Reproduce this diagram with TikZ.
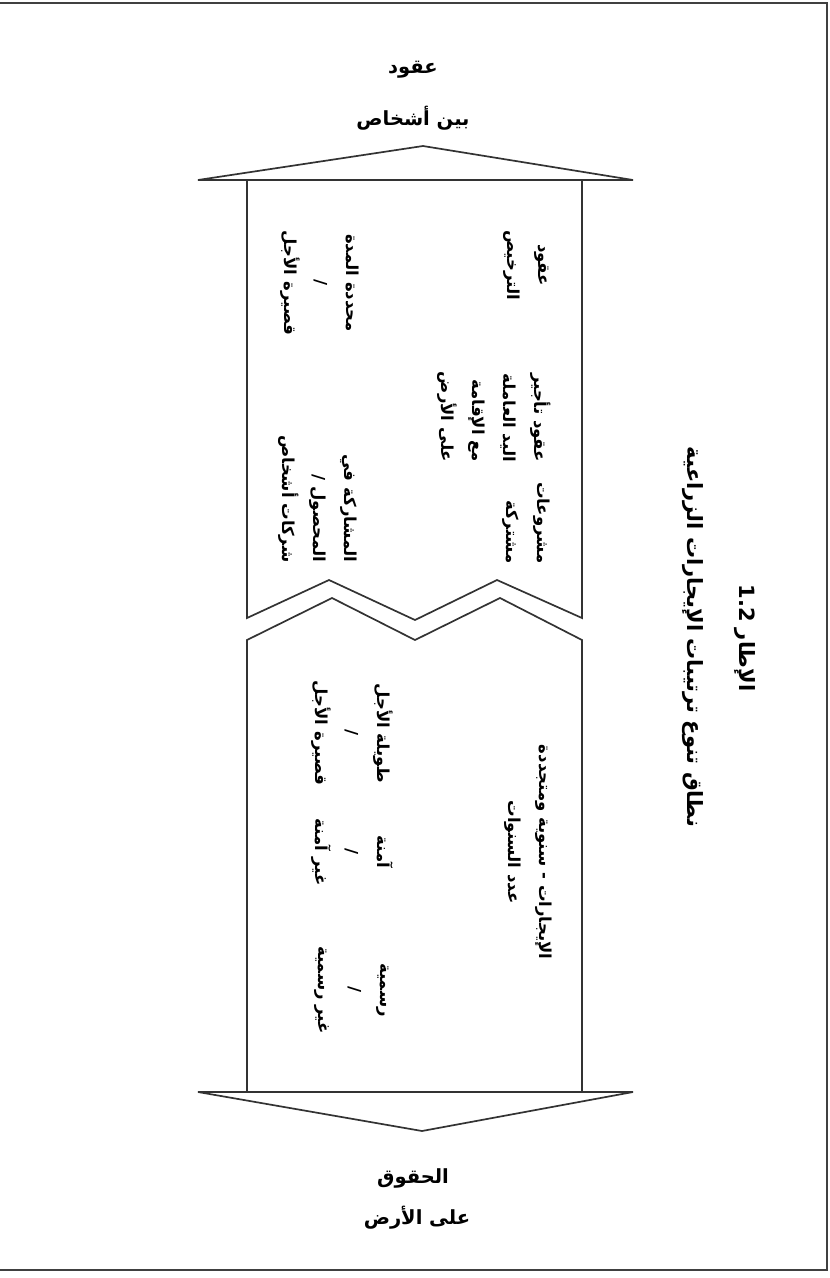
\documentclass[tikz,border=0pt]{standalone}
\usepackage{fontspec}
\TeXXeTstate=1
\newfontfamily\arabicfont[Script=Arabic]{DejaVu Sans}
\newcommand\innerarfont{\arabicfont\bfseries\fontsize{16.5}{31}\selectfont}
\newcommand\outerarfont{\arabicfont\bfseries\fontsize{19.5}{24}\selectfont}
\newcommand\titlearfont{\arabicfont\bfseries\fontsize{21}{26}\selectfont}
\newcommand\RL[1]{\beginR #1\endR}
\begin{document}
\begin{tikzpicture}[x=1pt,y=-1pt,
  outline/.style={draw=black!80, line width=1.7pt, line join=miter},
  frameline/.style={draw=black!75, line width=2pt},
  rlbl/.style={rotate=-90, font=\innerarfont, align=center, inner sep=0pt},
  rlblr/.style={rlbl, align=right},
  hlbl/.style={font=\outerarfont, inner sep=0pt},
  tlbl/.style={rotate=-90, font=\titlearfont, inner sep=0pt}]
\useasboundingbox (0,0) rectangle (830,1278);
% frame (no left side)
\draw[frameline] (0,3) -- (827,3) -- (827,1270) -- (0,1270);
% upper piece
\draw[outline] (198,180) -- (423,146) -- (633,180) -- cycle;
\draw[outline] (247,180) -- (247,618) -- (329,580) -- (415,620) -- (497,580) -- (582,618) -- (582,180);
% lower piece
\draw[outline] (247,640) -- (332,598) -- (415,640) -- (500,598) -- (582,640) -- (582,1092) -- (247,1092) -- cycle;
\draw[outline] (198,1092) -- (633,1092) -- (422,1131) -- cycle;
% outer labels
\node[hlbl] (top1) at (413,70) {\RL{عقود}};
\node[hlbl] (top2) at (413,118) {\RL{بين أشخاص}};
\node[hlbl] (bot1) at (413,1178) {\RL{الحقوق}};
\node[hlbl] (bot2) at (417,1218) {\RL{على الأرض}};
% title
\node[tlbl] (title1) at (745,638) {\RL{الإطار \beginL 1.2\endL}};
\node[tlbl] (title2) at (693,637) {\RL{نطاق تنوع ترتيبات الإيجارات الزراعية}};
% upper box texts
\node[rlbl] (licence) at (526,265) {\RL{عقود}\\\RL{الترخيص}};
\node[rlblr] (labour) at (494,417) {\RL{عقود تأجير}\\\RL{اليد العاملة}\\\RL{مع الإقامة}\\\RL{على الأرض}};
\node[rlblr] (joint) at (526,523) {\RL{مشروعات}\\\RL{مشتركة}};
\node[rlbl] (fixed) at (320,283) {\RL{محددة المدة}\\/\\\RL{قصيرة الأجل}};
\node[rlblr] (share) at (318,499) {\RL{المشاركة في}\\\RL{المحصول /}\\\RL{شركات أشخاص}};
% lower box texts
\node[rlbl] (leases) at (528,852) {\RL{الإيجارات - سنوية ومتجددة}\\\RL{عدد السنوات}};
\node[rlbl] (term) at (352,733) {\RL{طويلة الأجل}\\/\\\RL{قصيرة الأجل}};
\node[rlbl] (secure) at (352,852) {\RL{آمنة}\\/\\\RL{غير آمنة}};
\node[rlbl] (formal) at (352,990) {\RL{رسمية}\\/\\\RL{غير رسمية}};
\end{tikzpicture}
\end{document}
